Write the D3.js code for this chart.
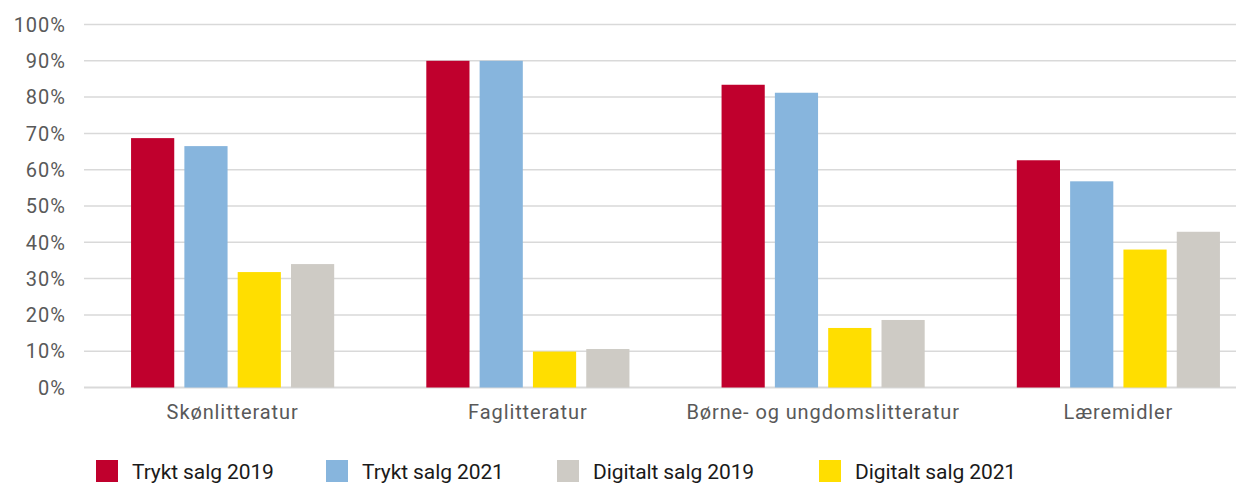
<!DOCTYPE html>
<html>
<head>
<meta charset="utf-8">
<script src="https://cdn.jsdelivr.net/npm/d3@7"></script>
<style>
  html, body { margin: 0; padding: 0; background: #fff; }
  svg { display: block; font-family: Roboto, "Open Sans", sans-serif; }
</style>
</head>
<body>
<div id="chart"></div>
<script>
// values (percent)
const categories = ["Skønlitteratur", "Faglitteratur", "Børne- og ungdomslitteratur", "Læremidler"];
const trykt2019 = [68.7, 90.0, 83.4, 62.6];
const trykt2021 = [66.5, 90.0, 81.2, 56.8];
const digitalt2021 = [31.8, 9.9, 16.4, 38.0];
const digitalt2019 = [34.0, 10.6, 18.6, 42.9];
const yTicks = [0, 10, 20, 30, 40, 50, 60, 70, 80, 90, 100];

// bar order in each group differs from legend order
const barSeries = [
  { name: "Trykt salg 2019", values: trykt2019, color: "#c0002d" },
  { name: "Trykt salg 2021", values: trykt2021, color: "#87b5dd" },
  { name: "Digitalt salg 2021", values: digitalt2021, color: "#ffde00" },
  { name: "Digitalt salg 2019", values: digitalt2019, color: "#cecbc5" }
];
const legendOrder = ["Trykt salg 2019", "Trykt salg 2021", "Digitalt salg 2019", "Digitalt salg 2021"];
const legendX = [96, 326, 557, 819];

const width = 1236, height = 485;
const plotLeft = 84, plotTop = 24.5, plotBottom = 387.5;

const svg = d3.select("#chart").append("svg")
  .attr("width", width)
  .attr("height", height);

// the plot area runs past the right edge of the picture (cropped)
const x0 = d3.scaleBand()
  .domain(categories)
  .range([85, 1266])
  .paddingInner(0.312)
  .paddingOuter(0.156);

const x1 = d3.scaleBand()
  .domain(barSeries.map(s => s.name))
  .range([0, x0.bandwidth()])
  .paddingInner(0.19);

const y = d3.scaleLinear()
  .domain([0, 100])
  .range([plotBottom, plotTop]);

// gridlines + tick labels
const grid = svg.append("g");
grid.selectAll("line")
  .data(yTicks)
  .join("line")
  .attr("x1", plotLeft)
  .attr("x2", width)
  .attr("y1", d => y(d))
  .attr("y2", d => y(d))
  .attr("stroke", "#d9d9d9")
  .attr("stroke-width", d => d === 0 ? 2 : 1.5);

grid.selectAll("text")
  .data(yTicks)
  .join("text")
  .attr("x", 66)
  .attr("y", d => y(d))
  .attr("dy", "0.36em")
  .attr("text-anchor", "end")
  .attr("fill", "#595959")
  .style("font-size", "20px")
  .style("letter-spacing", "1px")
  .text(d => d + "%");

// bars
const groups = svg.append("g")
  .selectAll("g")
  .data(categories)
  .join("g")
  .attr("transform", d => "translate(" + x0(d) + ",0)");

groups.selectAll("rect")
  .data((c, i) => barSeries.map(s => ({ name: s.name, color: s.color, value: s.values[i] })))
  .join("rect")
  .attr("x", d => x1(d.name))
  .attr("width", x1.bandwidth())
  .attr("y", d => y(d.value))
  .attr("height", d => plotBottom - y(d.value))
  .attr("fill", d => d.color);

// category labels
svg.append("g")
  .selectAll("text")
  .data(categories)
  .join("text")
  .attr("x", d => x0(d) + x0.bandwidth() / 2)
  .attr("y", 419)
  .attr("text-anchor", "middle")
  .attr("fill", "#595959")
  .style("font-size", "20px")
  .style("letter-spacing", "0.9px")
  .text(d => d);

// legend
const legend = svg.append("g");
legendOrder.forEach((name, i) => {
  const s = barSeries.find(b => b.name === name);
  legend.append("rect")
    .attr("x", legendX[i])
    .attr("y", 460)
    .attr("width", 22)
    .attr("height", 22)
    .attr("fill", s.color);
  legend.append("text")
    .attr("x", legendX[i] + 36)
    .attr("y", 479)
    .attr("fill", "#1a1a1a")
    .style("font-size", "21px")
    .style("letter-spacing", "-0.1px")
    .text(name);
});
</script>
</body>
</html>
